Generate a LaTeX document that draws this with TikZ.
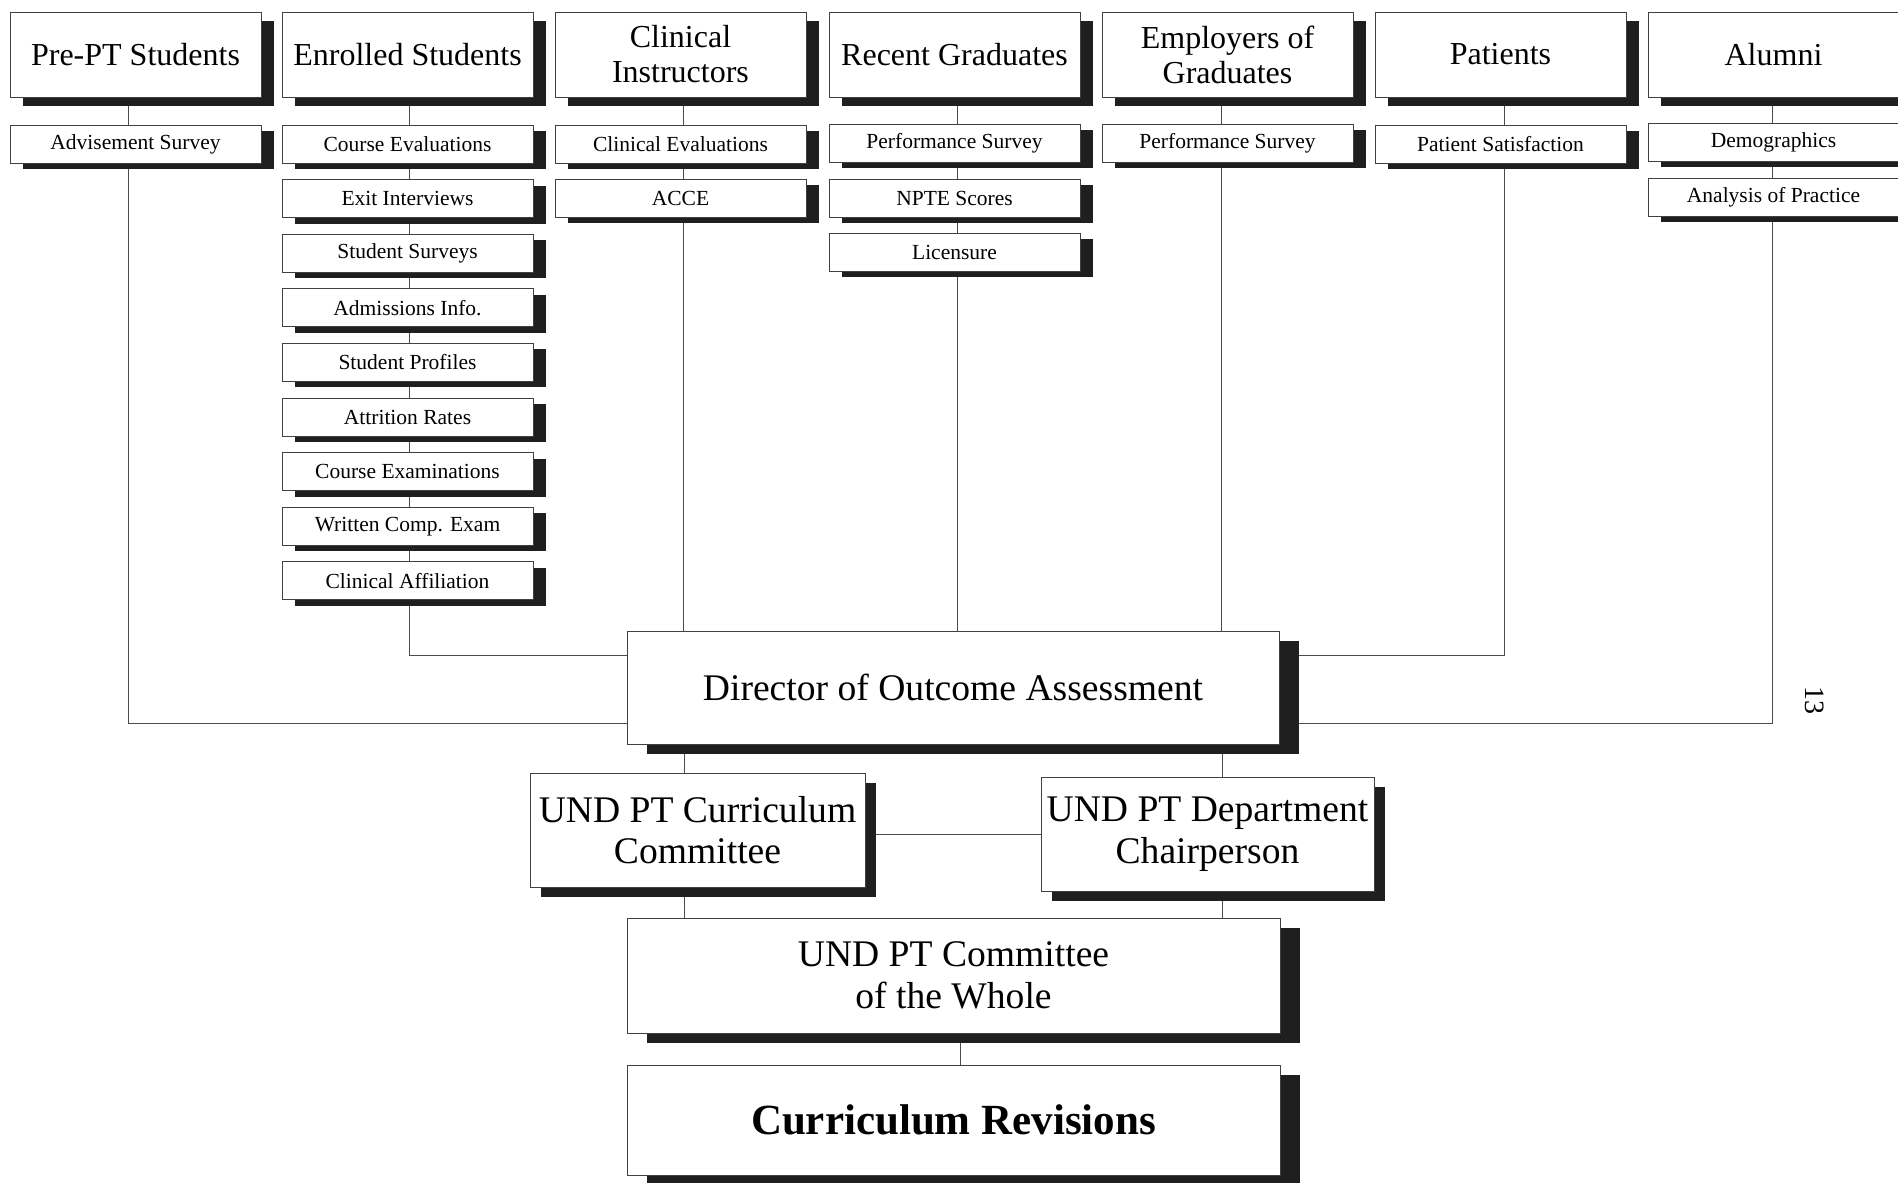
\documentclass[tikz,border=0pt]{standalone}
\usepackage{fontspec}
\setmainfont{Liberation Serif}
\usetikzlibrary{shadows,backgrounds}
\tikzset{
  box/.style={draw=black!75, line width=1pt, fill=white, anchor=north west,
    inner sep=1pt, outer sep=0pt, align=center},
  topbox/.style={box, minimum width=251pt, minimum height=85pt,
    font=\fontsize{32}{35}\selectfont,
    drop shadow={shadow xshift=13pt, shadow yshift=-9pt, fill=black!88, opacity=1}},
  smallbox/.style={box, minimum width=251pt, minimum height=38pt,
    font=\fontsize{21.5}{24}\selectfont,
    drop shadow={shadow xshift=12.5pt, shadow yshift=-6pt, fill=black!88, opacity=1}},
  bigbox/.style={box, font=\fontsize{37.6}{41.5}\selectfont,
    drop shadow={shadow xshift=20pt, shadow yshift=-10pt, fill=black!88, opacity=1}},
  midbox/.style={box, font=\fontsize{37.6}{41.5}\selectfont,
    drop shadow={shadow xshift=11pt, shadow yshift=-10pt, fill=black!88, opacity=1}},
  conn/.style={draw=black!70, line width=1pt},
}
\begin{document}
\begin{tikzpicture}[x=1pt,y=-1pt]
\useasboundingbox (0,0) rectangle (1898,1183);

% top row
\node[topbox] (pre) at (10,12) {Pre-PT Students};
\node[topbox] (enr) at (282,12) {Enrolled Students};
\node[topbox] (ci)  at (555,12) {Clinical\\Instructors};
\node[topbox] (rg)  at (829,12) {Recent Graduates};
\node[topbox] (emp) at (1102,12) {Employers of\\Graduates};
\node[topbox] (pat) at (1375,12) {Patients};
\node[topbox] (alu) at (1648,12) {Alumni};

% column 1
\node[smallbox] (adv) at (10,125) {Advisement Survey};
% column 2
\node[smallbox] (e1) at (282,125)   {Course Evaluations};
\node[smallbox] (e2) at (282,179.6) {Exit Interviews};
\node[smallbox] (e3) at (282,234.2) {Student Surveys};
\node[smallbox] (e4) at (282,288.8) {Admissions Info.};
\node[smallbox] (e5) at (282,343.4) {Student Profiles};
\node[smallbox] (e6) at (282,398)   {Attrition Rates};
\node[smallbox] (e7) at (282,452.6) {Course Examinations};
\node[smallbox] (e8) at (282,507.2) {Written Comp. Exam};
\node[smallbox] (e9) at (282,561.8) {Clinical Affiliation};
% column 3
\node[smallbox] (c1) at (555,125) {Clinical Evaluations};
\node[smallbox] (c2) at (555,179) {ACCE};
% column 4
\node[smallbox] (r1) at (829,124) {Performance Survey};
\node[smallbox] (r2) at (829,179) {NPTE Scores};
\node[smallbox] (r3) at (829,233) {Licensure};
% column 5
\node[smallbox] (m1) at (1102,124) {Performance Survey};
% column 6
\node[smallbox] (p1) at (1375,125) {Patient Satisfaction};
% column 7
\node[smallbox] (a1) at (1648,123) {Demographics};
\node[smallbox] (a2) at (1648,178) {Analysis of Practice};

% lower part
\node[bigbox, minimum width=652pt, minimum height=113pt] (dir) at (627,631) {Director of Outcome Assessment};
\node[midbox, minimum width=335pt, minimum height=114pt] (cc) at (530,773) {UND PT Curriculum\\Committee};
\node[midbox, minimum width=333pt, minimum height=114pt] (ch) at (1041,777) {UND PT Department\\Chairperson};
\node[bigbox, minimum width=653pt, minimum height=115pt] (cow) at (627,918) {UND PT Committee\\of the Whole};
\node[bigbox, minimum width=653pt, minimum height=110pt, font=\fontsize{43}{47}\selectfont\bfseries] (cr) at (627,1065) {Curriculum Revisions};

\node[rotate=-90, font=\fontsize{28}{30}\selectfont] (pg) at (1815,700) {13};

\coordinate (j1) at (0,655);
\coordinate (j2) at (0,723);
\coordinate (x1) at (684,0);
\coordinate (x2) at (1222,0);
\coordinate (x3) at (960,0);

\begin{pgfonlayer}{background}
\fill[white] (0,0) rectangle (1898,1183);
\draw[conn] ([xshift=-7.5pt]pre.south) -- ([xshift=-7.5pt]pre.south |- j2) -- (j2 -| dir.west);
\draw[conn] ([xshift=1.5pt]enr.south) -- ([xshift=1.5pt]enr.south |- j1) -- (j1 -| dir.west);
\draw[conn] ([xshift=2.5pt]ci.south) -- ([xshift=2.5pt]ci.south |- dir.north);
\draw[conn] ([xshift=2.5pt]rg.south) -- ([xshift=2.5pt]rg.south |- dir.north);
\draw[conn] ([xshift=-6pt]emp.south) -- ([xshift=-6pt]emp.south |- dir.north);
\draw[conn] ([xshift=3.5pt]pat.south) -- ([xshift=3.5pt]pat.south |- j1) -- (j1 -| dir.east);
\draw[conn] ([xshift=-1.5pt]alu.south) -- ([xshift=-1.5pt]alu.south |- j2) -- (j2 -| dir.east);
\draw[conn] (dir.south -| x1) -- (cc.north -| x1);
\draw[conn] (dir.south -| x2) -- (ch.north -| x2);
\draw[conn] (ch.west) -- (ch.west -| cc.east);
\draw[conn] (cc.south -| x1) -- (cow.north -| x1);
\draw[conn] (ch.south -| x2) -- (cow.north -| x2);
\draw[conn] (cow.south -| x3) -- (cr.north -| x3);
\end{pgfonlayer}
\end{tikzpicture}
\end{document}
